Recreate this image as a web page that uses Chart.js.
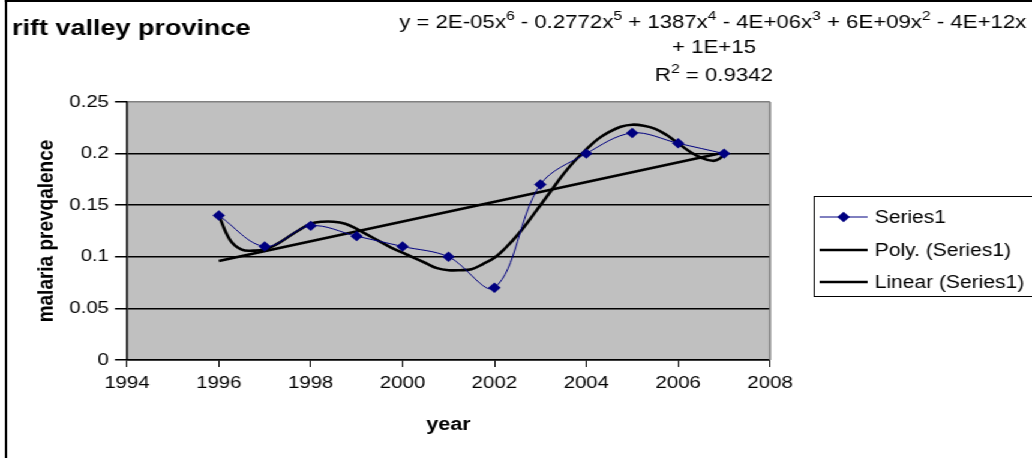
<!DOCTYPE html>
<html>
<head>
<meta charset="utf-8">
<script src="https://cdn.jsdelivr.net/npm/chart.js@4.4.1/dist/chart.umd.min.js"></script>
<style>
  html, body { margin: 0; padding: 0; background: #fff; overflow: hidden; }
  #wrap { position: absolute; left: 0; top: 0; width: 860px; height: 458px; transform: scaleX(1.2); transform-origin: 0 0; }
  #frame { position: absolute; left: 4px; top: 0; width: 1000px; height: 800px; border-left: 2px solid #000; border-top: 2px solid #000; }
  #chart { position: relative; }
</style>
</head>
<body>
<div id="wrap"><div id="frame"></div><canvas id="chart"></canvas></div>
<script>
// data
const years = [1996, 1997, 1998, 1999, 2000, 2001, 2002, 2003, 2004, 2005, 2006, 2007];
const prevalence = [0.14, 0.11, 0.13, 0.12, 0.11, 0.10, 0.07, 0.17, 0.20, 0.22, 0.21, 0.20];

// 6th order polynomial trendline
const polyYears = [1996, 1996.25, 1996.5, 1996.75, 1997, 1997.25, 1997.5, 1997.75,
  1998, 1998.25, 1998.5, 1998.75, 1999, 1999.25, 1999.5, 1999.75,
  2000, 2000.25, 2000.5, 2000.75, 2001, 2001.25, 2001.5, 2001.75,
  2002, 2002.25, 2002.5, 2002.75, 2003, 2003.25, 2003.5, 2003.75,
  2004, 2004.25, 2004.5, 2004.75, 2005, 2005.25, 2005.5, 2005.75,
  2006, 2006.25, 2006.5, 2006.75, 2006.9, 2007];
const polyValues = [0.140, 0.116, 0.107, 0.106, 0.107, 0.112, 0.119, 0.126,
  0.132, 0.134, 0.134, 0.132, 0.127, 0.121, 0.115, 0.109,
  0.104, 0.099, 0.094, 0.089, 0.087, 0.087, 0.088, 0.093,
  0.099, 0.109, 0.121, 0.135, 0.150, 0.165, 0.180, 0.193,
  0.204, 0.214, 0.221, 0.226, 0.228, 0.227, 0.224, 0.218,
  0.210, 0.202, 0.196, 0.193, 0.195, 0.200];

// linear trendline ends
const linearYears = [1996, 2007];
const linearValues = [0.096, 0.201];

const seriesNames = ['Series1', 'Poly. (Series1)', 'Linear (Series1)'];
const chartTitle = 'rift valley province';
const eqLine1 = [['y = 2E-05x', 0], ['6', 1], [' - 0.2772x', 0], ['5', 1], [' + 1387x', 0], ['4', 1],
  [' - 4E+06x', 0], ['3', 1], [' + 6E+09x', 0], ['2', 1], [' - 4E+12x', 0]];
const eqLine2 = [['+ 1E+15', 0]];
const eqLine3 = [['R', 0], ['2', 1], [' = 0.9342', 0]];

const FONT = '"Liberation Sans", Arial, sans-serif';
Chart.defaults.font.family = FONT;
Chart.defaults.color = '#000';

const toPoints = (xs, ys) => xs.map((x, i) => ({ x: x, y: ys[i] }));

// draws a line of text with superscripts, centred on cx
function drawRich(ctx, parts, cx, y, size) {
  const supSize = Math.round(size * 0.68);
  let total = 0;
  parts.forEach(([t, sup]) => {
    ctx.font = (sup ? supSize : size) + 'px ' + FONT;
    total += ctx.measureText(t).width;
  });
  let x = cx - total / 2;
  parts.forEach(([t, sup]) => {
    ctx.font = (sup ? supSize : size) + 'px ' + FONT;
    ctx.fillText(t, x, sup ? y - size * 0.45 : y);
    x += ctx.measureText(t).width;
  });
}

const decor = {
  id: 'decor',
  beforeDraw(chart) {
    const { ctx, chartArea: a } = chart;
    ctx.save();
    ctx.fillStyle = '#c0c0c0';
    ctx.fillRect(a.left, a.top, a.right - a.left, a.bottom - a.top);
    ctx.restore();
  },
  afterDraw(chart) {
    const { ctx, chartArea: a } = chart;
    ctx.save();
    ctx.strokeStyle = '#808080';
    ctx.lineWidth = 1.7;
    ctx.beginPath();
    ctx.moveTo(a.right, a.top);
    ctx.lineTo(a.right, a.bottom);
    ctx.stroke();

    ctx.fillStyle = '#000';
    ctx.textBaseline = 'alphabetic';
    ctx.textAlign = 'left';
    ctx.font = 'bold 22.5px ' + FONT;
    ctx.fillText(chartTitle, 10, 35);

    drawRich(ctx, eqLine1, 594, 28, 18.5);
    drawRich(ctx, eqLine2, 595, 53, 18.5);
    drawRich(ctx, eqLine3, 595, 81, 18.5);

    // legend box
    ctx.strokeStyle = '#000';
    ctx.lineWidth = 1;
    ctx.strokeRect(678.5, 196.5, 300, 100);
    const rows = [217, 250, 282];
    chart.data.datasets.forEach((ds, i) => {
      const y = rows[i];
      ctx.strokeStyle = ds.borderColor;
      ctx.lineWidth = ds.borderWidth;
      ctx.beginPath();
      ctx.moveTo(683, y);
      ctx.lineTo(723, y);
      ctx.stroke();
      if (ds.pointRadius > 0) {
        const r = ds.pointRadius;
        ctx.fillStyle = ds.pointBackgroundColor;
        ctx.beginPath();
        ctx.moveTo(703, y - r);
        ctx.lineTo(703 + r, y);
        ctx.lineTo(703, y + r);
        ctx.lineTo(703 - r, y);
        ctx.closePath();
        ctx.fill();
      }
      ctx.fillStyle = '#000';
      ctx.font = '17.5px ' + FONT;
      ctx.textBaseline = 'middle';
      ctx.fillText(ds.label, 729, y + 1);
    });
    ctx.restore();
  }
};

new Chart(document.getElementById('chart'), {
  type: 'line',
  data: {
    datasets: [
      {
        label: seriesNames[0],
        data: toPoints(years, prevalence),
        borderColor: '#000080',
        borderWidth: 1,
        pointStyle: 'rectRot',
        pointRadius: 5.2,
        pointBackgroundColor: '#000080',
        pointBorderColor: '#000080',
        pointBorderWidth: 0,
        tension: 0.35
      },
      {
        label: seriesNames[1],
        data: toPoints(polyYears, polyValues),
        borderColor: '#000',
        borderWidth: 2.6,
        pointRadius: 0,
        tension: 0.4
      },
      {
        label: seriesNames[2],
        data: toPoints(linearYears, linearValues),
        borderColor: '#000',
        borderWidth: 2.6,
        pointRadius: 0,
        tension: 0
      }
    ]
  },
  options: {
    responsive: true,
    maintainAspectRatio: false,
    animation: false,
    events: [],
    layout: { padding: { top: 102, right: 218.3, left: 0, bottom: 0 } },
    plugins: { legend: { display: false }, tooltip: { enabled: false } },
    scales: {
      x: {
        type: 'linear',
        min: 1994,
        max: 2008,
        afterFit: (s) => { s.height = 98; },
        ticks: { stepSize: 2, padding: 6, font: { size: 17 }, callback: (v) => String(v) },
        grid: { drawOnChartArea: false, tickLength: 7, color: '#000', lineWidth: 1 },
        border: { color: '#000', width: 1.5 },
        title: { display: true, text: 'year', font: { size: 18, weight: 'bold' }, padding: { top: 0, bottom: 22 } }
      },
      y: {
        min: 0,
        max: 0.25,
        afterFit: (s) => { s.width = 105.8; },
        ticks: { stepSize: 0.05, padding: 5, font: { size: 17 }, callback: (v) => String(+v.toFixed(2)) },
        grid: {
          color: (c) => (c.tick && c.tick.value >= 0.25 ? '#808080' : '#000'),
          tickColor: '#000',
          lineWidth: 1.5,
          tickLength: 10
        },
        border: { color: '#000', width: 1.5 },
        title: { display: true, text: 'malaria prevqalence', font: { size: 19, weight: 'bold' }, padding: { top: 27, bottom: 0 } }
      }
    }
  },
  plugins: [decor]
});
</script>
</body>
</html>
